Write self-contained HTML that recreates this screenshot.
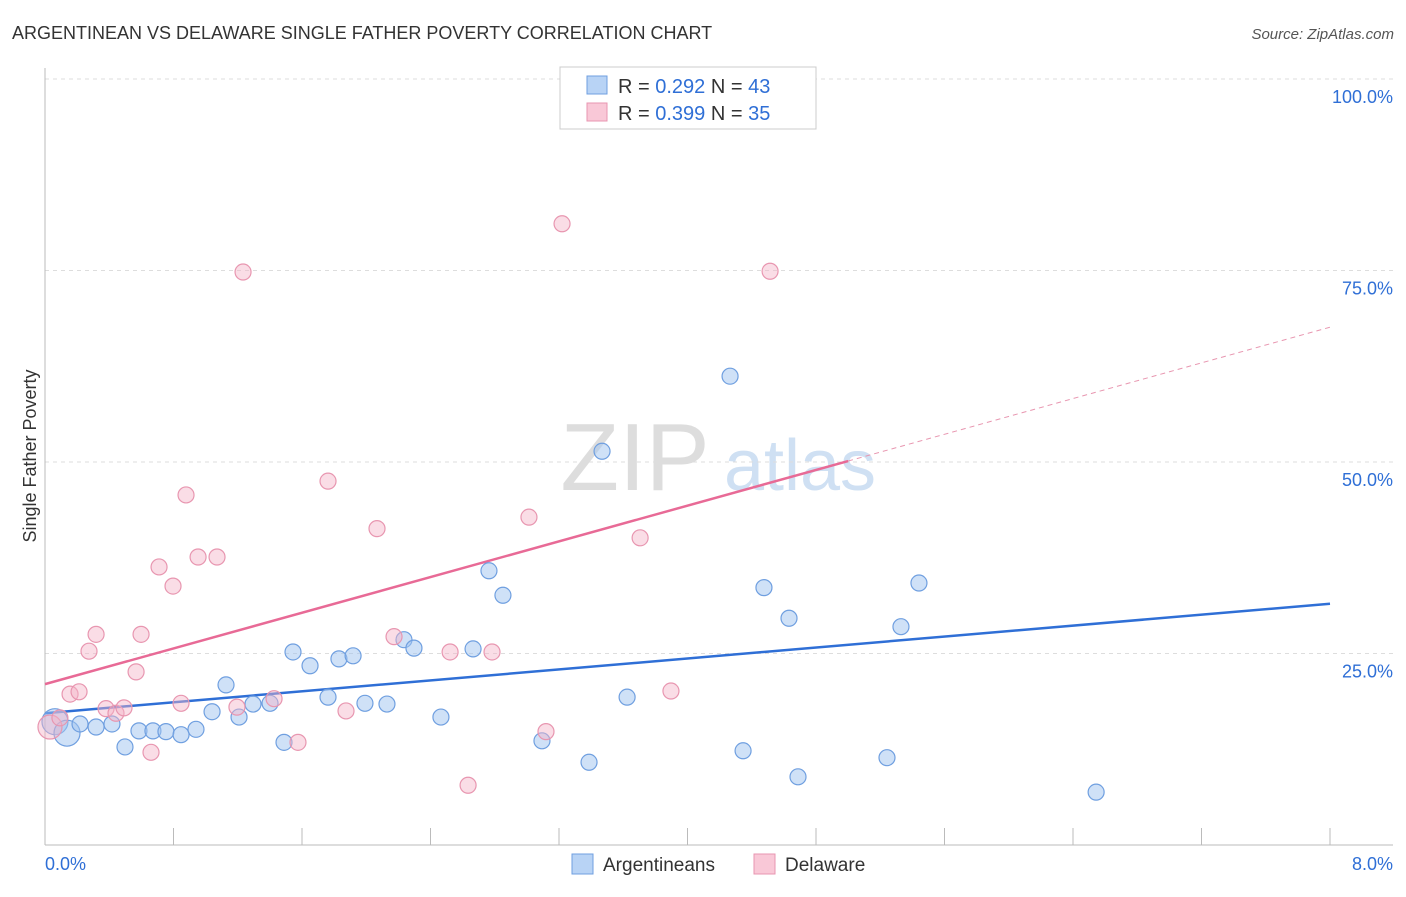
<!DOCTYPE html>
<html><head><meta charset="utf-8"><style>
body{margin:0;background:#fff;font-family:"Liberation Sans",sans-serif;}
svg text{font-family:"Liberation Sans",sans-serif;}
</style></head><body>
<svg id="c" width="1406" height="892" xmlns="http://www.w3.org/2000/svg">
<text x="12" y="39" font-size="18" fill="#333">ARGENTINEAN VS DELAWARE SINGLE FATHER POVERTY CORRELATION CHART</text>
<text x="1394" y="39" font-size="15" fill="#555" text-anchor="end" font-style="italic">Source: ZipAtlas.com</text>
<text x="36" y="456" font-size="18" fill="#333" text-anchor="middle" transform="rotate(-90 36 456)">Single Father Poverty</text>
<g><text x="635" y="490" font-size="96" fill="#ddd" font-family="Liberation Serif" text-anchor="middle">ZIP</text><text x="800" y="490" font-size="72" fill="#cfe0f3" text-anchor="middle">atlas</text></g>
<g id="grid"></g><g id="axes"></g><g id="trend"></g><g id="pts"></g>
<g>
<rect x="560" y="67" width="256" height="62" fill="#fff" stroke="#ccc"/>
<rect x="587" y="76" width="20" height="18" fill="#b8d3f5" stroke="#6f9fe0"/>
<text x="618" y="93" font-size="20" fill="#333">R = <tspan fill="#2f6fd6">0.292</tspan>   N = <tspan fill="#2f6fd6">43</tspan></text>
<rect x="587" y="103" width="20" height="18" fill="#f9c8d7" stroke="#e896b0"/>
<text x="618" y="120" font-size="20" fill="#333">R = <tspan fill="#2f6fd6">0.399</tspan>   N = <tspan fill="#2f6fd6">35</tspan></text>
</g>
<g>
<rect x="572" y="854" width="21" height="20" fill="#b8d3f5" stroke="#6f9fe0"/>
<text x="603" y="871" font-size="19" fill="#333">Argentineans</text>
<rect x="754" y="854" width="21" height="20" fill="#f9c8d7" stroke="#e896b0"/>
<text x="785" y="871" font-size="19" fill="#333">Delaware</text>
</g>
</svg>
<script>
const blueX=[0.062,0.137,0.218,0.318,0.417,0.498,0.585,0.672,0.753,0.847,0.940,1.040,1.127,1.208,1.295,1.401,1.488,1.544,1.650,1.762,1.830,1.918,1.992,2.129,2.235,2.297,2.465,2.665,2.764,2.851,3.094,3.387,3.468,3.624,4.265,4.346,4.476,4.632,4.688,5.242,5.329,5.441,6.544];
const blueY=[16.1,14.6,15.8,15.4,15.8,12.8,14.9,14.9,14.8,14.4,15.1,17.4,20.9,16.7,18.4,18.5,13.4,25.2,23.4,19.3,24.3,24.7,18.5,18.4,26.8,25.7,16.7,25.6,35.8,32.6,13.6,10.8,51.4,19.3,61.2,12.3,33.6,29.6,8.9,11.4,28.5,34.2,6.9];
const pinkX=[0.031,0.093,0.156,0.212,0.274,0.318,0.380,0.442,0.492,0.567,0.598,0.660,0.710,0.797,0.847,0.878,0.953,1.071,1.195,1.233,1.426,1.575,1.762,1.874,2.067,2.173,2.522,2.634,2.783,3.013,3.119,3.219,3.705,3.897,4.514];
const pinkY=[15.4,16.6,19.7,20.0,25.3,27.5,17.8,17.2,17.9,22.6,27.5,12.1,36.3,33.8,18.5,45.7,37.6,37.6,18.0,74.8,19.1,13.4,47.5,17.5,41.3,27.2,25.2,7.8,25.2,42.8,14.8,81.1,40.1,20.1,74.9];
const yTicks=[25,50,75,100];
const yTickLabels=["25.0%","50.0%","75.0%","100.0%"];
const xTickLabels=["0.0%","8.0%"];
const blueTrend=[17.2,31.5];
const pinkTrend=[21.0,67.6];
const NS="http://www.w3.org/2000/svg";
const X=v=>45+v/8*1285, Y=v=>845-v/100*766;
function mk(p,t,a){const e=document.createElementNS(NS,t);for(const k in a)e.setAttribute(k,a[k]);document.getElementById(p).appendChild(e);return e;}
yTicks.forEach((t,i)=>{
 const l=mk('grid','line',{x1:45,x2:1393,y1:Y(t),y2:Y(t),stroke:'#ddd','stroke-dasharray':'4,4'});
 
 
 const tx=mk('grid','text',{x:1393,y:Y(t)+24,'font-size':18,fill:'#2f6fd6','text-anchor':'end'});
 tx.textContent=yTickLabels[i];
 
 
});
let a=mk('axes','line',{x1:45,x2:45,y1:68,y2:845,stroke:'#bbb'});


a=mk('axes','line',{x1:45,x2:1393,y1:845,y2:845,stroke:'#bbb'});


for(let i=1;i<=10;i++){const t=mk('axes','line',{x1:X(i*0.8),x2:X(i*0.8),y1:828,y2:845,stroke:'#bbb'});
 
 }
[[0,'start',45],[8,'end',1393]].forEach((d,i)=>{const t=mk('axes','text',{x:d[2],y:870,'font-size':18,fill:'#2f6fd6','text-anchor':d[1]});t.textContent=xTickLabels[i];
 
 });
let tl=mk('trend','line',{x1:X(0),y1:Y(blueTrend[0]),x2:X(8),y2:Y(blueTrend[1]),stroke:'#2f6fd6','stroke-width':2.5});


const pm=(x)=>pinkTrend[0]+(pinkTrend[1]-pinkTrend[0])*x/8;
tl=mk('trend','line',{x1:X(0),y1:Y(pm(0)),x2:X(5),y2:Y(pm(5)),stroke:'#e86a96','stroke-width':2.5});


tl=mk('trend','line',{x1:X(5),y1:Y(pm(5)),x2:X(8),y2:Y(pm(8)),stroke:'#e896b0','stroke-width':1,'stroke-dasharray':'5,4'});


blueX.forEach((x,i)=>{const c=mk('pts','circle',{cx:X(x),cy:Y(blueY[i]),r:i<2?13:8,fill:'rgba(160,196,240,0.5)',stroke:'#6f9fe0','stroke-width':1.2});
 
 });
pinkX.forEach((x,i)=>{const c=mk('pts','circle',{cx:X(x),cy:Y(pinkY[i]),r:i<1?12:8,fill:'rgba(245,180,200,0.45)',stroke:'#e896b0','stroke-width':1.2});
 
 });
</script>
</body></html>
